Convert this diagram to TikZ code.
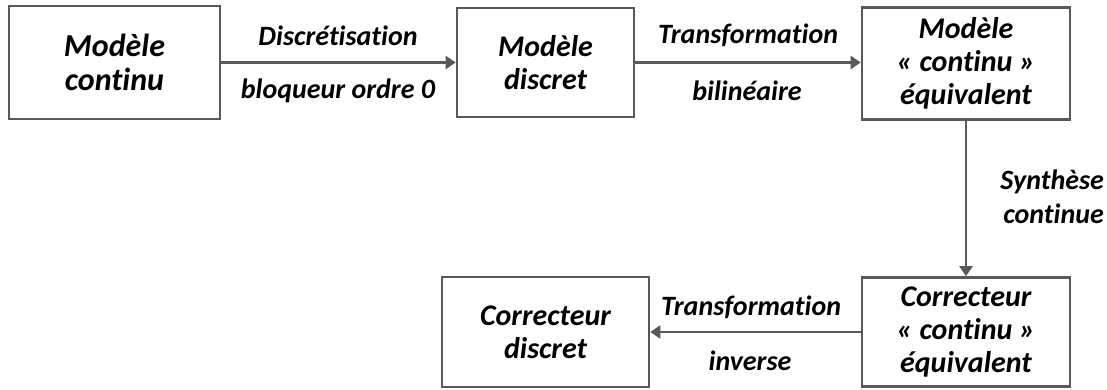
\documentclass[tikz,border=0pt]{standalone}
\usepackage{fontspec}
\setmainfont{Carlito}[Ligatures={NoCommon}]
\usetikzlibrary{arrows.meta}
\definecolor{edgegray}{HTML}{595959}
\tikzset{
  blockbox/.style={draw=edgegray, line width=2.6pt, fill=white, align=center, inner sep=0pt,
    font=\fontsize{30}{33}\selectfont\bfseries\itshape},
  bigbox/.style={blockbox, font=\fontsize{32}{34}\selectfont\bfseries\itshape},
  flowarrow/.style={draw=edgegray, line width=2.6pt, -{Triangle[length=10pt,width=13pt]}},
  flowlabel/.style={inner sep=0pt, font=\fontsize{28}{34}\selectfont\bfseries\itshape}
}
\begin{document}
\begin{tikzpicture}[x=1pt,y=-1pt]
\useasboundingbox (0,0) rectangle (1107,389);
\node[bigbox, minimum width=211pt, minimum height=113pt] (b1) at (114.5,62.5) {Modèle\\continu};
\node[blockbox, minimum width=177pt, minimum height=109pt] (b2) at (545.5,62.5) {Modèle\\discret};
\node[blockbox, minimum width=208pt, minimum height=112pt] (b3) at (966,63.5) {Modèle\\« continu »\\équivalent};
\node[blockbox, minimum width=208pt, minimum height=109pt] (b4) at (966,332) {Correcteur\\« continu »\\équivalent};
\node[blockbox, minimum width=207pt, minimum height=110pt] (b5) at (545.5,332) {Correcteur\\discret};
\draw[flowarrow] (b1.east) -- (b2.west);
\draw[flowarrow] (b2.east) -- (b3.west |- b2.east);
\draw[flowarrow] (b3.south) -- (b4.north);
\draw[flowarrow] (b4.west) -- (b5.east);
\node[flowlabel, anchor=base] (l1) at (338,45) {Discrétisation};
\node[flowlabel, anchor=base] (l2) at (338,98) {bloqueur ordre 0};
\node[flowlabel, anchor=base] (l3) at (748,43) {Transformation};
\node[flowlabel, anchor=base] (l4) at (747,100) {bilinéaire};
\node[flowlabel, anchor=base east, align=right] (l5) at (1104,223) {Synthèse\\continue};
\node[flowlabel, anchor=base] (l6) at (751,315) {Transformation};
\node[flowlabel, anchor=base] (l7) at (750,370) {inverse};
\end{tikzpicture}
\end{document}
